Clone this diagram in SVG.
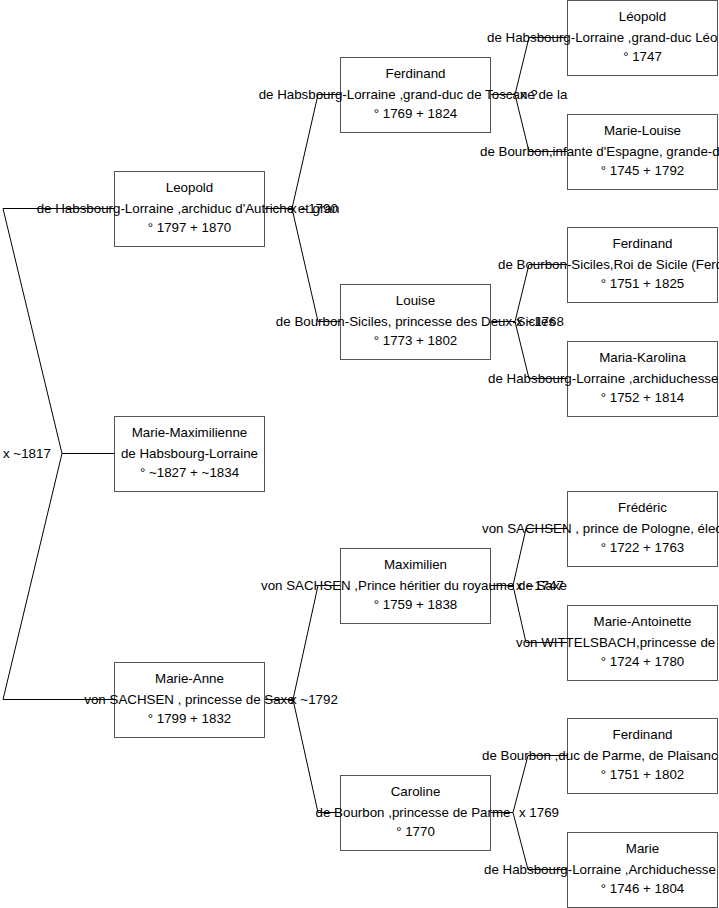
<svg xmlns="http://www.w3.org/2000/svg" width="719" height="908" viewBox="0 0 719 908">
<style>
.box{fill:#ffffff;stroke:#555555;stroke-width:1}
.t{font-family:"Liberation Sans",Arial,sans-serif;font-size:13.33px;fill:#000000;text-anchor:middle}
.s{font-family:"Liberation Sans",Arial,sans-serif;font-size:13.33px;fill:#000000;text-anchor:start}
.c{fill:none;stroke:#000000;stroke-width:1}
</style>
<rect width="719" height="908" fill="#ffffff"/>
<g id="nodes">
<g id="leopold">
<rect class="box" x="114.5" y="171.5" width="150" height="75"/>
<text class="t" x="189.5" y="192">Leopold</text>
<text class="t" x="188" y="213">de Habsbourg-Lorraine ,archiduc d'Autriche et gran</text>
<text class="t" x="189.5" y="232">° 1797 + 1870</text>
</g>
<g id="marie-maximilienne">
<rect class="box" x="114.5" y="416.5" width="150" height="75"/>
<text class="t" x="189.5" y="437">Marie-Maximilienne</text>
<text class="t" x="189.5" y="458">de Habsbourg-Lorraine</text>
<text class="t" x="189.5" y="477">° ~1827 + ~1834</text>
</g>
<g id="marie-anne">
<rect class="box" x="114.5" y="662.5" width="150" height="75"/>
<text class="t" x="189.5" y="683">Marie-Anne</text>
<text class="t" x="189.5" y="704">von SACHSEN , princesse de Saxe</text>
<text class="t" x="189.5" y="723">° 1799 + 1832</text>
</g>
<g id="ferdinand-toscane">
<rect class="box" x="340.5" y="57.5" width="150" height="75"/>
<text class="t" x="415.5" y="78">Ferdinand</text>
<text class="t" x="413" y="99">de Habsbourg-Lorraine ,grand-duc de Toscane de la</text>
<text class="t" x="415.5" y="118">° 1769 + 1824</text>
</g>
<g id="louise">
<rect class="box" x="340.5" y="284.5" width="150" height="75"/>
<text class="t" x="415.5" y="305">Louise</text>
<text class="t" x="415.5" y="326">de Bourbon-Siciles, princesse des Deux-Siciles</text>
<text class="t" x="415.5" y="345">° 1773 + 1802</text>
</g>
<g id="maximilien">
<rect class="box" x="340.5" y="548.5" width="150" height="75"/>
<text class="t" x="415.5" y="569">Maximilien</text>
<text class="t" x="414" y="590">von SACHSEN ,Prince héritier du royaume de Saxe</text>
<text class="t" x="415.5" y="609">° 1759 + 1838</text>
</g>
<g id="caroline">
<rect class="box" x="340.5" y="775.5" width="150" height="75"/>
<text class="t" x="415.5" y="796">Caroline</text>
<text class="t" x="413" y="817">de Bourbon ,princesse de Parme</text>
<text class="t" x="415.5" y="836">° 1770</text>
</g>
<g id="leopold-grand-duc">
<rect class="box" x="567.5" y="0.5" width="150" height="75"/>
<text class="t" x="642.5" y="21">Léopold</text>
<text class="s" x="487" y="42">de Habsbourg-Lorraine ,grand-duc Léo</text>
<text class="t" x="642.5" y="61">° 1747</text>
</g>
<g id="marie-louise">
<rect class="box" x="567.5" y="114.5" width="150" height="75"/>
<text class="t" x="642.5" y="135">Marie-Louise</text>
<text class="s" x="480" y="156">de Bourbon,infante d'Espagne, grande-d</text>
<text class="t" x="642.5" y="175">° 1745 + 1792</text>
</g>
<g id="ferdinand-sicile">
<rect class="box" x="567.5" y="227.5" width="150" height="75"/>
<text class="t" x="642.5" y="248">Ferdinand</text>
<text class="s" x="498" y="269">de Bourbon-Siciles,Roi de Sicile (Ferd</text>
<text class="t" x="642.5" y="288">° 1751 + 1825</text>
</g>
<g id="maria-karolina">
<rect class="box" x="567.5" y="341.5" width="150" height="75"/>
<text class="t" x="642.5" y="362">Maria-Karolina</text>
<text class="s" x="488" y="383">de Habsbourg-Lorraine ,archiduchesse</text>
<text class="t" x="642.5" y="402">° 1752 + 1814</text>
</g>
<g id="frederic">
<rect class="box" x="567.5" y="491.5" width="150" height="75"/>
<text class="t" x="642.5" y="512">Frédéric</text>
<text class="s" x="482" y="533">von SACHSEN , prince de Pologne, élec</text>
<text class="t" x="642.5" y="552">° 1722 + 1763</text>
</g>
<g id="marie-antoinette">
<rect class="box" x="567.5" y="605.5" width="150" height="75"/>
<text class="t" x="642.5" y="626">Marie-Antoinette</text>
<text class="s" x="516" y="647">von WITTELSBACH,princesse de</text>
<text class="t" x="642.5" y="666">° 1724 + 1780</text>
</g>
<g id="ferdinand-parme">
<rect class="box" x="567.5" y="718.5" width="150" height="75"/>
<text class="t" x="642.5" y="739">Ferdinand</text>
<text class="s" x="482" y="760">de Bourbon ,duc de Parme, de Plaisanc</text>
<text class="t" x="642.5" y="779">° 1751 + 1802</text>
</g>
<g id="marie">
<rect class="box" x="567.5" y="832.5" width="150" height="75"/>
<text class="t" x="642.5" y="853">Marie</text>
<text class="s" x="484" y="874">de Habsbourg-Lorraine ,Archiduchesse</text>
<text class="t" x="642.5" y="893">° 1746 + 1804</text>
</g>
</g>
<g id="connectors">
<polyline class="c" points="114,208.5 3,208.5 62,453.5 3,699.5 114,699.5"/>
<polyline class="c" points="62,453.5 114,453.5"/>
<polyline class="c" points="340,94.5 318,94.5 292,208.5 318,321.5 340,321.5"/>
<polyline class="c" points="265,208.5 292,208.5"/>
<polyline class="c" points="340,585.5 318,585.5 293,699.5 318,812.5 340,812.5"/>
<polyline class="c" points="265,699.5 293,699.5"/>
<polyline class="c" points="567,37.5 529,37.5 515,94.5 529,151.5 567,151.5"/>
<polyline class="c" points="491,94.5 515,94.5"/>
<polyline class="c" points="567,264.5 529,264.5 515,321.5 529,378.5 567,378.5"/>
<polyline class="c" points="491,321.5 515,321.5"/>
<polyline class="c" points="567,528.5 526,528.5 513,585.5 526,642.5 567,642.5"/>
<polyline class="c" points="491,585.5 513,585.5"/>
<polyline class="c" points="567,755.5 528,755.5 513,812.5 528,869.5 567,869.5"/>
<polyline class="c" points="491,812.5 513,812.5"/>
</g>
<g id="marriages">
<text class="s" x="3" y="458">x ~1817</text>
<text class="s" x="290" y="213">x ~1790</text>
<text class="s" x="290" y="704">x ~1792</text>
<text class="s" x="520" y="99">x ?</text>
<text class="s" x="516" y="326">x ~1768</text>
<text class="s" x="516" y="590">x ~1747</text>
<text class="s" x="519" y="817">x 1769</text>
</g>
</svg>
